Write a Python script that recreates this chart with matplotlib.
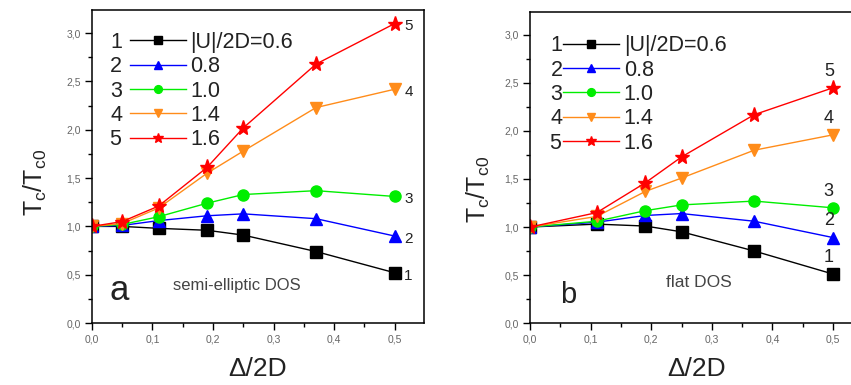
import matplotlib
matplotlib.use("Agg")
import matplotlib.pyplot as plt
from matplotlib.ticker import MultipleLocator, FuncFormatter
from matplotlib.lines import Line2D

plt.rcParams['font.family'] = ['Liberation Sans', 'DejaVu Sans']
plt.rcParams['mathtext.default'] = 'regular'

# ---- data ----
x_semi = [0.0, 0.05, 0.11, 0.19, 0.25, 0.37, 0.50]
semi_1 = [1.00, 1.00, 0.98, 0.96, 0.91, 0.74, 0.52]
semi_2 = [1.00, 1.01, 1.06, 1.11, 1.13, 1.08, 0.90]
semi_3 = [1.00, 1.02, 1.10, 1.24, 1.33, 1.37, 1.31]
semi_4 = [1.00, 1.03, 1.19, 1.55, 1.78, 2.23, 2.42]
semi_5 = [1.00, 1.05, 1.21, 1.61, 2.02, 2.68, 3.10]

x_flat = [0.0, 0.11, 0.19, 0.25, 0.37, 0.50]
flat_1 = [1.00, 1.03, 1.01, 0.95, 0.75, 0.51]
flat_2 = [1.00, 1.05, 1.12, 1.14, 1.06, 0.89]
flat_3 = [1.00, 1.06, 1.17, 1.23, 1.27, 1.20]
flat_4 = [1.00, 1.11, 1.37, 1.51, 1.80, 1.96]
flat_5 = [1.00, 1.15, 1.46, 1.73, 2.17, 2.45]

curve_ids = ['1', '2', '3', '4', '5']
u_labels = ['|U|/2D=0.6', '0.8', '1.0', '1.4', '1.6']
colors = ['#000000', '#0000ff', '#00ee00', '#ff8c1a', '#ff0000']
markers = ['s', '^', 'o', 'v', '*']
msizes = [8, 8, 8, 8, 11]

fig = plt.figure(figsize=(8.51, 3.85), dpi=100)
axL = fig.add_axes([0.108, 0.161, 0.390, 0.813])
axR = fig.add_axes([0.623, 0.161, 0.390, 0.808])

fmt = FuncFormatter(lambda v, p: f"{v:.1f}".replace('.', ','))


def style(ax, ylab_pos):
    ax.set_xlim(0.0, 0.548)
    ax.set_ylim(0.0, 3.24)
    ax.xaxis.set_major_locator(MultipleLocator(0.1))
    ax.xaxis.set_minor_locator(MultipleLocator(0.05))
    ax.yaxis.set_major_locator(MultipleLocator(0.5))
    ax.yaxis.set_minor_locator(MultipleLocator(0.25))
    ax.xaxis.set_major_formatter(fmt)
    ax.yaxis.set_major_formatter(fmt)
    ax.tick_params(which='major', direction='out', length=5, width=1,
                   labelsize=7.5, labelcolor='#666666', pad=3)
    ax.tick_params(which='minor', direction='out', length=3, width=1)
    for s in ax.spines.values():
        s.set_linewidth(1.1)
    ax.set_xlabel('Δ/2D', fontsize=19, labelpad=9, color='#222222')
    ax.set_ylabel(r'T$_c$/T$_{c0}$', fontsize=18, color='#222222')
    ax.yaxis.set_label_coords(*ylab_pos)


def draw(ax, x, series, end_offsets, end_fs, leg_anchor):
    for ys, c, m, ms in zip(series, colors, markers, msizes):
        ax.plot(x, ys, color=c, marker=m, markersize=ms, lw=1.0,
                markeredgecolor=c, markerfacecolor=c)
    for ys, cid, off in zip(series, curve_ids, end_offsets):
        ax.annotate(cid, (x[-1], ys[-1]), xytext=off, textcoords='offset points',
                    fontsize=end_fs, color='#222222', ha='center', va='center')
    leg_handles = [Line2D([], [], color=c, marker=m, markersize=ms * 0.7, lw=1.0)
                   for c, m, ms in zip(colors, markers, msizes)]
    leg = ax.legend(leg_handles, u_labels, loc='upper left', bbox_to_anchor=leg_anchor,
                    frameon=False, fontsize=15.5, handlelength=2.6, handletextpad=0.2,
                    labelspacing=0.155, borderpad=0, borderaxespad=0,
                    labelcolor='#222222')
    return leg


style(axL, (-0.13, 0.45))
style(axR, (-0.115, 0.43))

legL = draw(axL, x_semi, [semi_1, semi_2, semi_3, semi_4, semi_5],
            [(10, -2)] * 5, 11, (0.115, 0.93))
legR = draw(axR, x_flat, [flat_1, flat_2, flat_3, flat_4, flat_5],
            [(-3, 12)] * 5, 13, (0.10, 0.925))

axL.text(0.054, 0.073, 'a', transform=axL.transAxes, fontsize=25, color='#222222')
axL.text(0.437, 0.121, 'semi-elliptic DOS', transform=axL.transAxes, fontsize=12,
         ha='center', va='center', color='#444444')
axR.text(0.09, 0.064, 'b', transform=axR.transAxes, fontsize=21, color='#222222')
axR.text(0.509, 0.129, 'flat DOS', transform=axR.transAxes, fontsize=12.5,
         ha='center', va='center', color='#444444')

# curve numbers to the left of legend entries
fig.canvas.draw()
renderer = fig.canvas.get_renderer()
for ax, leg, gap in ((axL, legL, 4), (axR, legR, -3)):
    inv = ax.transAxes.inverted()
    for cid, t, hl in zip(curve_ids, leg.get_texts(), leg.get_lines()):
        bb = t.get_window_extent(renderer)
        hb = hl.get_window_extent(renderer)
        yc = (bb.y0 + bb.y1) / 2
        xa, ya = inv.transform((hb.x0 - gap, yc))
        ax.text(xa, ya, cid, transform=ax.transAxes, fontsize=15.5,
                ha='right', va='center', color='#222222')

fig.savefig('out.png', dpi=100)
